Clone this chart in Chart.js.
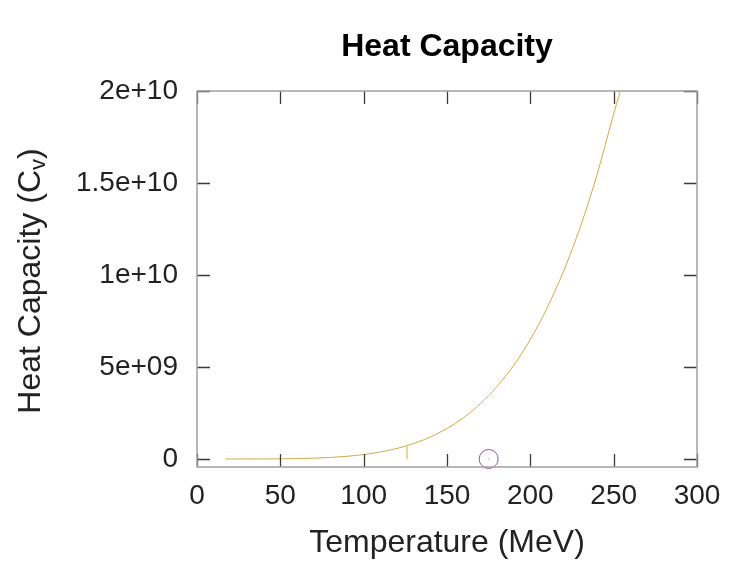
<!DOCTYPE html>
<html>
<head>
<meta charset="utf-8">
<script src="https://cdn.jsdelivr.net/npm/chart.js@4/dist/chart.umd.min.js"></script>
<style>
  html, body { margin: 0; padding: 0; background: #ffffff; }
  #wrap { width: 747px; height: 562px; }
</style>
</head>
<body>
<div id="wrap"><canvas id="c" width="747" height="562"></canvas></div>
<script>
// ---- data ----
const chartTitle = "Heat Capacity";
const xAxisTitle = "Temperature (MeV)";
const yAxisTitleMain = "Heat Capacity (C";
const yAxisTitleSub = "v";
const yAxisTitleEnd = ")";

const temperature = [17, 20, 30, 40, 50, 60, 70, 80, 90, 100, 110, 120, 130, 140, 150, 160, 170, 180, 190, 200, 210, 220, 230, 240, 250, 254];
const heatCapacity = [6.0e4, 1.2e5, 7.9e5, 3.1e6, 9.0e6, 2.1e7, 4.4e7, 8.4e7, 1.46e8, 2.42e8, 3.80e8, 5.74e8, 8.40e8, 1.195e9, 1.66e9, 2.25e9, 3.00e9, 3.94e9, 5.09e9, 6.50e9, 8.20e9, 1.022e10, 1.262e10, 1.545e10, 1.876e10, 2.0e10];

const markerT = [126, 126];
const markerCv = [0, 6.9e8];

const pointT = [175];
const pointCv = [0];

const xTicks = [0, 50, 100, 150, 200, 250, 300];
const xTickLabels = ["0", "50", "100", "150", "200", "250", "300"];
const yTicks = [0, 5e9, 1e10, 1.5e10, 2e10];
const yTickLabels = ["0", "5e+09", "1e+10", "1.5e+10", "2e+10"];

// ---- chart ----
const FONT = "'Liberation Sans', Arial, Helvetica, sans-serif";

function toXY(xs, ys) { return xs.map((x, i) => ({ x: x, y: ys[i] })); }

const framePlugin = {
  id: 'frame',
  afterDatasetsDraw(chart) {
    const ctx = chart.ctx;
    const a = chart.chartArea;
    const xs = chart.scales.x, ys = chart.scales.y;
    ctx.save();
    // tick marks on all four sides (inward)
    ctx.strokeStyle = '#3a3a3a';
    ctx.lineWidth = 1.3;
    const tl = 13;
    ctx.beginPath();
    xTicks.forEach(v => {
      const px = Math.round(xs.getPixelForValue(v)) + 0.5;
      ctx.moveTo(px, a.bottom); ctx.lineTo(px, a.bottom - tl);
      ctx.moveTo(px, a.top); ctx.lineTo(px, a.top + tl);
    });
    yTicks.forEach(v => {
      const py = Math.round(ys.getPixelForValue(v)) + 0.5;
      ctx.moveTo(a.left, py); ctx.lineTo(a.left + tl, py);
      ctx.moveTo(a.right, py); ctx.lineTo(a.right - tl, py);
    });
    ctx.stroke();
    // frame
    ctx.strokeStyle = '#a0a0a0';
    ctx.lineWidth = 1.5;
    ctx.strokeRect(a.left, a.top, a.right - a.left, a.bottom - a.top);
    ctx.restore();
  },
  afterDraw(chart) {
    // y-axis title with subscript
    const ctx = chart.ctx;
    const a = chart.chartArea;
    ctx.save();
    const cx = 31, cy = (a.top + a.bottom) / 2 + 2;
    ctx.translate(cx, cy);
    ctx.rotate(-Math.PI / 2);
    ctx.fillStyle = '#222222';
    ctx.textBaseline = 'middle';
    const mainFont = "32px " + FONT;
    const subFont = "22px " + FONT;
    ctx.font = mainFont;
    const w1 = ctx.measureText(yAxisTitleMain).width;
    const w3 = ctx.measureText(yAxisTitleEnd).width;
    ctx.font = subFont;
    const w2 = ctx.measureText(yAxisTitleSub).width;
    let x0 = -(w1 + w2 + w3) / 2;
    ctx.font = mainFont;
    ctx.textAlign = 'left';
    ctx.fillText(yAxisTitleMain, x0, 0);
    ctx.font = subFont;
    ctx.fillText(yAxisTitleSub, x0 + w1, 8);
    ctx.font = mainFont;
    ctx.fillText(yAxisTitleEnd, x0 + w1 + w2, 0);
    ctx.restore();
  }
};

new Chart(document.getElementById('c'), {
  type: 'scatter',
  data: {
    datasets: [
      {
        label: 'Cv',
        data: toXY(temperature, heatCapacity),
        showLine: true,
        borderColor: '#cfab44',
        borderWidth: 1,
        pointRadius: 0,
        fill: false,
        cubicInterpolationMode: 'monotone'
      },
      {
        label: 'marker',
        data: toXY(markerT, markerCv),
        showLine: true,
        borderColor: '#cfab44',
        borderWidth: 1,
        pointRadius: 0,
        fill: false
      },
      {
        label: 'point',
        data: toXY(pointT, pointCv),
        showLine: false,
        pointStyle: 'circle',
        pointRadius: 9.5,
        pointBorderWidth: 1,
        pointBorderColor: '#a4508e',
        pointBackgroundColor: 'rgba(0,0,0,0)',
        clip: false
      },
      {
        label: 'pointCenter',
        data: toXY(pointT, pointCv),
        showLine: false,
        pointRadius: 0.7,
        pointBorderWidth: 0,
        pointBackgroundColor: '#d9a0c8',
        clip: false
      }
    ]
  },
  options: {
    responsive: false,
    animation: false,
    devicePixelRatio: 1,
    layout: { padding: { left: 62, right: 50, top: 0, bottom: 0 } },
    plugins: {
      legend: { display: false },
      tooltip: { enabled: false },
      title: {
        display: true,
        text: chartTitle,
        fullSize: false,
        color: '#000000',
        font: { family: FONT, size: 32, weight: 'bold', lineHeight: 1.2 },
        padding: { top: 28, bottom: 24.6 }
      }
    },
    scales: {
      x: {
        type: 'linear',
        min: 0,
        max: 300,
        grid: { display: false },
        border: { display: false },
        afterBuildTicks: (s) => { s.ticks = xTicks.map(v => ({ value: v })); },
        afterFit: (s) => { s.height = 95; },
        ticks: {
          color: '#222222',
          font: { family: FONT, size: 28 },
          padding: 4,
          maxRotation: 0,
          callback: (v) => { const i = xTicks.indexOf(v); return i >= 0 ? xTickLabels[i] : ''; }
        },
        title: {
          display: true,
          text: xAxisTitle,
          color: '#222222',
          font: { family: FONT, size: 32 },
          padding: { top: 0, bottom: 0 }
        }
      },
      y: {
        type: 'linear',
        min: -4.35e8,
        max: 2e10,
        grid: { display: false },
        border: { display: false },
        afterBuildTicks: (s) => { s.ticks = yTicks.map(v => ({ value: v })); },
        afterFit: (s) => { s.width = 135; },
        ticks: {
          color: '#222222',
          font: { family: FONT, size: 28 },
          padding: 11,
          callback: (v) => { const i = yTicks.indexOf(v); return i >= 0 ? yTickLabels[i] : ''; }
        }
      }
    }
  },
  plugins: [framePlugin]
});
</script>
</body>
</html>
